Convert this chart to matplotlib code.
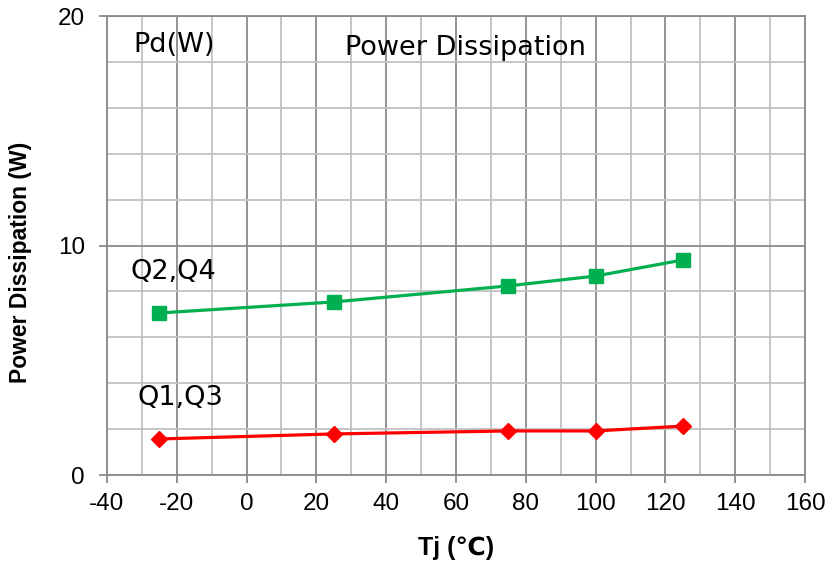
import matplotlib
matplotlib.use("Agg")
import matplotlib.pyplot as plt
from matplotlib.ticker import MultipleLocator

tj = [-25, 25, 75, 100, 125]
q2q4 = [7.06, 7.54, 8.24, 8.67, 9.37]
q1q3 = [1.57, 1.79, 1.92, 1.92, 2.13]
x_ticks = [-40, -20, 0, 20, 40, 60, 80, 100, 120, 140, 160]
y_ticks = [0, 10, 20]

plt.rcParams["axes.unicode_minus"] = False
plt.rcParams["font.family"] = ["Liberation Sans", "DejaVu Sans"]

fig = plt.figure(figsize=(8.3, 5.64), dpi=100)
ax = fig.add_axes([0.1289, 0.1578, 0.8410, 0.8138])

ax.set_xlim(-40, 160)
ax.set_ylim(0, 20)
ax.set_xticks(x_ticks)
ax.set_yticks(y_ticks)
ax.xaxis.set_minor_locator(MultipleLocator(10))
ax.yaxis.set_minor_locator(MultipleLocator(2))
ax.grid(which="major", color="#8a8a8a", linewidth=1.3)
ax.grid(which="minor", color="#c2c2c2", linewidth=1.3)
ax.set_axisbelow(True)
for s in ax.spines.values():
    s.set_color("#8a8a8a")
    s.set_linewidth(1.3)
ax.tick_params(which="major", length=6, width=1.3, color="#8a8a8a",
               direction="out", labelsize=17.5)
ax.tick_params(which="minor", length=0)
ax.tick_params(axis="x", pad=7)
ax.tick_params(axis="y", pad=10)

ax.plot(tj, q2q4, color="#00B050", linewidth=2.3, marker="s", markersize=9.5, zorder=3)
ax.plot(tj, q1q3, color="#FF0000", linewidth=2.3, marker="D", markersize=8.5, zorder=3)

ax.set_ylabel("Power Dissipation (W)", fontsize=16.5, fontweight="bold")
ax.yaxis.set_label_coords(-0.107, 0.464)
ax.text(0.5, -0.159, "Tj (℃)", transform=ax.transAxes, fontsize=18,
        fontweight="bold", ha="center", va="center")

ann = dict(fontsize=19.5, va="center", ha="left", family="DejaVu Sans")
ax.text(-32.5, 18.74, "Pd(W)", **ann)
ax.text(28.2, 18.6, "Power Dissipation", **ann)
ax.text(-33.4, 8.85, "Q2,Q4", **ann)
ax.text(-31.4, 3.35, "Q1,Q3", **ann)

fig.savefig("out.png", dpi=100)
